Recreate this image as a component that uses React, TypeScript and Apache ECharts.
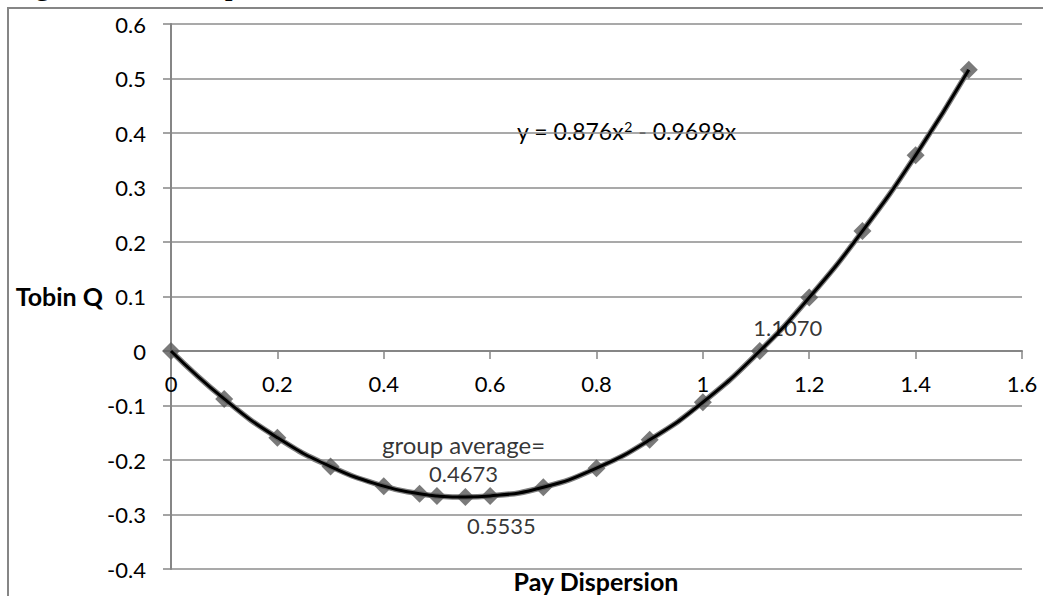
import React, { useEffect, useRef } from "react";
import * as echarts from "echarts";

const payDispersion = [0, 0.1, 0.2, 0.3, 0.4, 0.4673, 0.5, 0.5535, 0.6, 0.7, 0.8, 0.9, 1.0, 1.107, 1.2, 1.3, 1.4, 1.5];
const tobinQ = [0, -0.088, -0.159, -0.212, -0.248, -0.262, -0.266, -0.268, -0.266, -0.25, -0.215, -0.163, -0.094, 0.0, 0.098, 0.22, 0.359, 0.516];
const pointLabels: Record<number, string> = { 5: "{a|group average=}\n{b|0.4673}", 7: "{b|0.5535}", 13: "{b|1.1070}" };
const labelOffsets: Record<number, number[]> = { 5: [44, -35], 7: [36, 28], 13: [28, -24] };
const equationText = "y = 0.876x{sup|2} - 0.9698x";
const titleText = "Figure 1: Developed Tobin Q Matrix";

const FONT = "Lato";
const Y_MIN = -0.4;
const Y_MAX = 0.6;
const GRID_TOP = 24;
const GRID_BOTTOM = 27;
const H = 596;

export default function App() {
  const ref = useRef<HTMLDivElement>(null);
  useEffect(() => {
    if (!ref.current) return;
    const chart = echarts.init(ref.current, null, { renderer: "svg" });
    const pts = payDispersion.map((x, i) => [x, tobinQ[i]]);
    const plotH = H - GRID_TOP - GRID_BOTTOM;
    const zeroShift = -(plotH * (0 - Y_MIN)) / (Y_MAX - Y_MIN);
    const scatterData = pts.map((p, i) =>
      pointLabels[i]
        ? {
            value: p,
            label: {
              show: true,
              formatter: pointLabels[i],
              position: "inside",
              offset: labelOffsets[i],
              align: "center",
              rich: {
                a: { color: "#000", fontFamily: FONT, fontSize: 24, lineHeight: 29, align: "center" },
                b: { color: "#000", fontFamily: FONT, fontSize: 22, lineHeight: 29, align: "center" },
              },
            },
          }
        : { value: p }
    );
    chart.setOption({
      animation: false,
      backgroundColor: "#fff",
      grid: {
        left: 171,
        right: 21,
        top: GRID_TOP,
        bottom: GRID_BOTTOM,
        containLabel: false,
        outerBoundsMode: "none",
      },
      xAxis: {
        type: "value",
        min: 0,
        max: 1.6,
        interval: 0.2,
        offset: zeroShift,
        axisLine: { show: true, onZero: false, lineStyle: { color: "#868686", width: 2 } },
        axisTick: { show: true, length: 8, lineStyle: { color: "#868686", width: 1.5 } },
        axisLabel: { color: "#000", fontFamily: FONT, fontSize: 22, margin: 21 },
        splitLine: { show: false },
      },
      yAxis: {
        type: "value",
        min: Y_MIN,
        max: Y_MAX,
        interval: 0.1,
        axisLine: { show: true, onZero: false, lineStyle: { color: "#868686", width: 2 } },
        axisTick: { show: true, length: 8, lineStyle: { color: "#868686", width: 1.5 } },
        axisLabel: { color: "#000", fontFamily: FONT, fontSize: 22, margin: 25 },
        splitLine: { show: true, lineStyle: { color: "#8c8c8c", width: 1.5 } },
      },
      series: [
        {
          type: "line",
          data: pts,
          smooth: true,
          symbol: "none",
          lineStyle: { color: "#7f7f7f", width: 5.5 },
          z: 2,
        },
        {
          type: "scatter",
          data: scatterData,
          symbol: "diamond",
          symbolSize: 18,
          itemStyle: { color: "#595959" },
          z: 3,
        },
        {
          type: "line",
          data: pts,
          smooth: true,
          symbol: "none",
          lineStyle: { color: "#000", width: 3 },
          z: 4,
        },
      ],
      graphic: [
        {
          type: "rect",
          shape: { x: 8, y: 8, width: 1200, height: 800 },
          style: { fill: "none", stroke: "#868686", lineWidth: 2 },
          silent: true,
          z: -1,
        },
        {
          type: "text",
          x: 8,
          y: -1,
          style: {
            text: titleText,
            font: "32px 'Liberation Serif'",
            fill: "#000",
            verticalAlign: "bottom",
          },
        },
        {
          type: "text",
          x: 103,
          y: 296,
          style: {
            text: "Tobin Q",
            fontFamily: FONT,
            fontWeight: "bold",
            fontSize: 25,
            fill: "#000",
            align: "right",
            verticalAlign: "middle",
          },
        },
        {
          type: "text",
          x: 596,
          y: 581,
          style: {
            text: "Pay Dispersion",
            fontFamily: FONT,
            fontWeight: "bold",
            fontSize: 25,
            fill: "#000",
            align: "center",
            verticalAlign: "middle",
          },
        },
        {
          type: "text",
          x: 517,
          y: 131,
          style: {
            text: equationText,
            fontFamily: FONT,
            fontSize: 23,
            fill: "#000",
            verticalAlign: "middle",
            rich: {
              sup: { fontFamily: FONT, fontSize: 14, verticalAlign: "top", padding: [0, 0, 10, 0] },
            },
          },
        },
      ],
    });
    return () => chart.dispose();
  }, []);
  return (
    <div
      ref={ref}
      style={{ position: "fixed", left: 0, top: 0, width: 1043, height: 596 }}
    />
  );
}
